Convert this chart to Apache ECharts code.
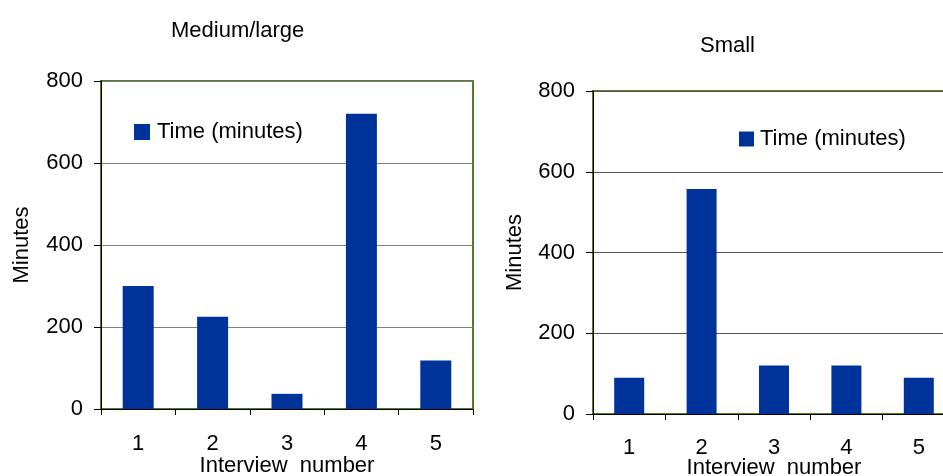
<!DOCTYPE html>
<html>
<head>
<meta charset="utf-8">
<script src="https://cdn.jsdelivr.net/npm/echarts@6/dist/echarts.min.js"></script>
<style>
  html, body { margin: 0; padding: 0; background: #ffffff; overflow: hidden; }
  #chart { width: 943px; height: 476px; }
</style>
</head>
<body>
<div id="chart"></div>
<script>
const categories = ['1', '2', '3', '4', '5'];
const mediumLargeTimes = [300, 225, 37, 720, 118];
const smallTimes = [90, 557, 120, 120, 90];
const yTicks = [0, 200, 400, 600, 800];
const seriesName = 'Time (minutes)';
const titles = ['Medium/large', 'Small'];

const FONT = "'Liberation Sans', Arial, sans-serif";
const GREEN = '#4F7F1F';
const BAR = '#003399';

const chart = echarts.init(document.getElementById('chart'), null, { renderer: 'canvas' });

function xAxis(gridIndex, labelMargin, nameGap) {
  return {
    type: 'category', gridIndex: gridIndex, data: categories,
    name: 'Interview  number', nameLocation: 'middle', nameGap: nameGap, nameMoveOverlap: false,
    nameTextStyle: { fontFamily: FONT, fontSize: 22, color: '#000' },
    axisLine: { show: true, lineStyle: { color: '#000', width: 1 } },
    axisTick: { show: true, length: 6, lineStyle: { color: '#000' } },
    axisLabel: { fontFamily: FONT, fontSize: 22, color: '#000', margin: labelMargin },
    splitLine: { show: false }
  };
}
function yAxis(gridIndex, nameGap, gridColor) {
  return {
    type: 'value', gridIndex: gridIndex,
    min: yTicks[0], max: yTicks[yTicks.length - 1], interval: yTicks[1] - yTicks[0],
    name: 'Minutes', nameLocation: 'middle', nameGap: nameGap, nameRotate: 90, nameMoveOverlap: false,
    nameTextStyle: { fontFamily: FONT, fontSize: 22, color: '#000' },
    axisLine: { show: true, lineStyle: { color: '#000', width: 1 } },
    axisTick: { show: true, length: 7, lineStyle: { color: '#000' } },
    axisLabel: { fontFamily: FONT, fontSize: 22, color: '#000', margin: 18 },
    splitLine: { show: true, lineStyle: { color: gridColor, width: 1 } }
  };
}

chart.setOption({
  animation: false,
  backgroundColor: '#ffffff',
  title: [
    { text: titles[0], left: 166, top: 15, textStyle: { fontFamily: FONT, fontSize: 22, fontWeight: 'normal', color: '#000' } },
    { text: titles[1], left: 695, top: 30, textStyle: { fontFamily: FONT, fontSize: 22, fontWeight: 'normal', color: '#000' } }
  ],
  legend: [
    { data: [seriesName], left: 129, top: 116, icon: 'rect', itemWidth: 16, itemHeight: 16, itemGap: 0,
      textStyle: { fontFamily: FONT, fontSize: 22, color: '#000', padding: [0, 0, 0, 2] } },
    { data: [seriesName], left: 734, top: 123, icon: 'rect', itemWidth: 15, itemHeight: 15, itemGap: 0,
      textStyle: { fontFamily: FONT, fontSize: 22, color: '#000', padding: [0, 0, 0, 1] } }
  ],
  grid: [
    { left: 101, top: 81, width: 372, height: 328, outerBoundsMode: 'none', containLabel: false,
      show: true, borderColor: GREEN, borderWidth: 2, backgroundColor: 'transparent' },
    { left: 593, top: 91, width: 362, height: 323, outerBoundsMode: 'none', containLabel: false,
      show: true, borderColor: GREEN, borderWidth: 2, backgroundColor: 'transparent' }
  ],
  xAxis: [xAxis(0, 24, 46), xAxis(1, 23, 43)],
  yAxis: [yAxis(0, 68, '#808080'), yAxis(1, 67, '#555555')],
  series: [
    { name: seriesName, type: 'bar', xAxisIndex: 0, yAxisIndex: 0, data: mediumLargeTimes, barWidth: 31, itemStyle: { color: BAR } },
    { name: seriesName, type: 'bar', xAxisIndex: 1, yAxisIndex: 1, data: smallTimes, barWidth: 30, itemStyle: { color: BAR } }
  ]
});
</script>
</body>
</html>
